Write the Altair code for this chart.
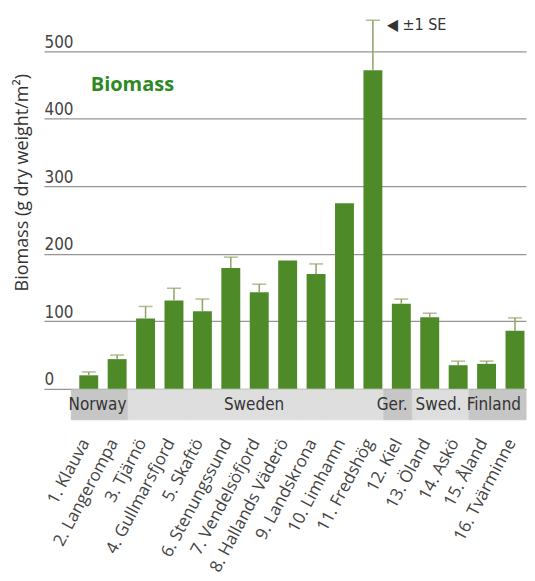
import altair as alt
import pandas as pd

sites = ["1. Klauva", "2. Langerompa", "3. Tjärnö", "4. Gullmarsfjord", "5. Skaftö",
         "6. Stenungssund", "7. Vendelsöfjord", "8. Hallands Väderö", "9. Landskrona",
         "10. Limhamn", "11. Fredshög", "12. Kiel", "13. Öland", "14. Askö",
         "15. Åland", "16. Tvärminne"]
biomass = [20, 44, 104, 131, 115, 179, 143, 190, 170, 275, 472, 126, 106, 35, 37, 86]
se = [5, 6, 18, 18, 18, 16, 12, None, 15, None, 74, 7, 6, 6, 4, 19]
shade = ["dark", "dark", "light", "light", "light", "light", "light", "light", "light",
         "light", "light", "dark", "light", "light", "dark", "dark"]
countries = ["Norway", "Sweden", "Ger.", "Swed.", "Finland"]
country_anchor = [1, 7, 12, 13, 16]
country_dx = [12, -2, -6, 12, -18]
yticks = [0, 100, 200, 300, 400, 500]

df = pd.DataFrame({"site": sites, "biomass": biomass, "se": se, "shade": shade})
df["upper"] = df["biomass"] + df["se"]

W = 483
GREEN = "#4f8a28"
ERR = "#8fa266"

xs = alt.X("site:N", sort=sites, axis=None,
           scale=alt.Scale(paddingInner=0.334, paddingOuter=0.649, align=0.958))
yscale = alt.Scale(domain=[0, 550], nice=False)
yaxis = alt.Axis(values=yticks, grid=True, gridColor="#959595", gridWidth=1.2,
                 domain=False, ticks=False, tickSize=0, labelAlign="left",
                 labelBaseline="alphabetic", labelPadding=0, labelOffset=-4,
                 labelFont="DejaVu Sans Condensed", labelFontSize=17, labelColor="#444",
                 title="Biomass (g dry weight/m²)", titleFont="Open Sans",
                 titleFontSize=18, titleFontWeight="normal", titleColor="#333",
                 titleX=-21, titleY=165, titleBaseline="middle")

base = alt.Chart(df)
bars = base.mark_bar(color=GREEN).encode(
    x=xs, y=alt.Y("biomass:Q", scale=yscale, axis=yaxis))
err = base.transform_filter("isValid(datum.se)").mark_rule(color=ERR, strokeWidth=1.5).encode(
    x=xs, y=alt.Y("biomass:Q", scale=yscale), y2="upper:Q")
cap = base.transform_filter("isValid(datum.se)").mark_tick(
    color=ERR, thickness=1.5, size=14, orient="horizontal").encode(
    x=xs, y=alt.Y("upper:Q", scale=yscale))

lbl = alt.Chart(pd.DataFrame({"site": [sites[0]], "v": [450], "t": ["Biomass"]})).mark_text(
    align="left", baseline="middle", dx=2, font="Open Sans", fontSize=20,
    fontWeight="bold", color="#2d8a22").encode(
    x=xs, y=alt.Y("v:Q", scale=yscale), text="t:N")

se_lbl = alt.Chart(pd.DataFrame({"site": [sites[10]], "v": [biomass[10] + se[10]],
                                 "t": ["◀ ±1 SE"]})).mark_text(
    align="left", baseline="middle", dx=14, dy=5, font="DejaVu Sans Condensed",
    fontSize=16, color="#333").encode(
    x=xs, y=alt.Y("v:Q", scale=yscale), text="t:N")

top = alt.layer(bars, err, cap, lbl, se_lbl).properties(width=W, height=372)

xb = alt.X("site:N", sort=sites,
           scale=alt.Scale(paddingInner=0, paddingOuter=0.482, align=1),
           axis=alt.Axis(title=None, domain=False, ticks=False, labelAngle=-62,
                         labelAlign="right", labelBaseline="middle", labelPadding=20,
                         labelFont="Open Sans", labelFontSize=17, labelColor="#444"))
shade_scale = alt.Scale(domain=["dark", "light"], range=["#c6c6c6", "#dedede"])
band = alt.Chart(df).mark_rect(strokeWidth=1).encode(
    x=xb,
    color=alt.Color("shade:N", scale=shade_scale, legend=None),
    stroke=alt.Stroke("shade:N", scale=shade_scale, legend=None))
texts = []
for c, a, d in zip(countries, country_anchor, country_dx):
    texts.append(alt.Chart(pd.DataFrame({"site": [sites[a - 1]], "name": [c]})).mark_text(
        dx=d, font="DejaVu Sans Condensed", fontSize=17, color="#333",
        baseline="middle").encode(x=xb, y=alt.value(15), text="name:N"))
bottom = alt.layer(band, *texts).properties(width=W, height=30)

chart = alt.vconcat(top, bottom, spacing=0).properties(
    padding={"left": 6, "top": 8, "right": 0, "bottom": 0}
).configure_view(stroke=None)

chart.save("out.html", embed_options={"renderer": "svg", "actions": False})
